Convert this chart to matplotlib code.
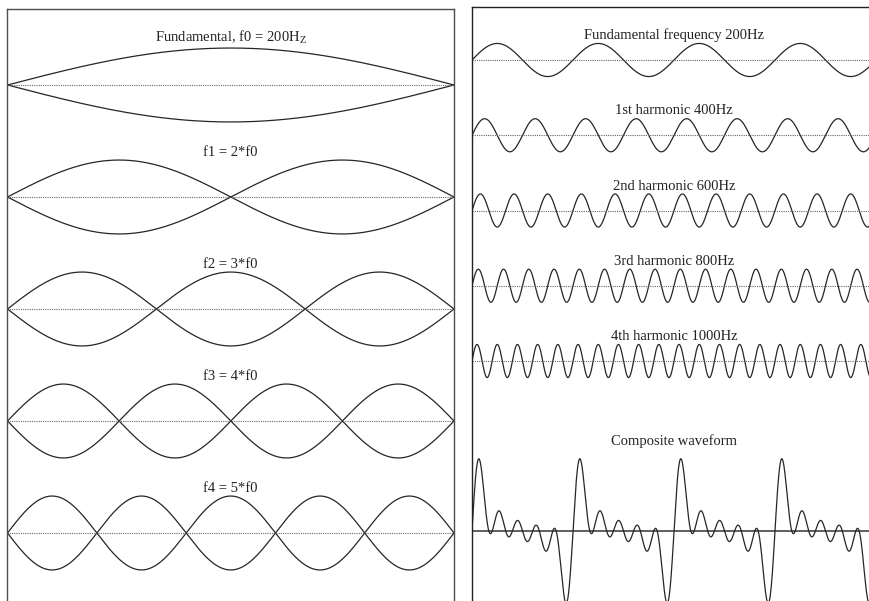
import numpy as np
import matplotlib
matplotlib.use('Agg')
import matplotlib.pyplot as plt

plt.rcParams['font.family'] = 'Liberation Serif'
plt.rcParams['mathtext.fontset'] = 'custom'
plt.rcParams['mathtext.rm'] = 'Liberation Serif'

# harmonic numbers and their frequencies (Hz)
modes = [1, 2, 3, 4, 5]
freqs = [200, 400, 600, 800, 1000]

string_labels = ['Fundamental, f0 = 200H$_{\\rm Z}$', 'f1 = 2*f0', 'f2 = 3*f0',
                 'f3 = 4*f0', 'f4 = 5*f0']
wave_labels = ['Fundamental frequency 200Hz', '1st harmonic 400Hz',
               '2nd harmonic 600Hz', '3rd harmonic 800Hz', '4th harmonic 1000Hz']
composite_label = 'Composite waveform'

# relative amplitudes of the drawn waves
string_amp = 0.33
wave_amps = [0.22, 0.22, 0.22, 0.22, 0.22]
composite_peak = 0.96

line_col = '#262626'
dot_col = '#666666'
W, H = 870, 601

fig = plt.figure(figsize=(8.7, 6.01), dpi=100)

# left panel: standing waves on a string
axL = fig.add_axes([7.5 / W, (H - 625) / H, 446.5 / W, (625 - 9) / H])
x = np.linspace(0, 1, 1000)
for i, n in enumerate(modes):
    y0 = -i
    s = string_amp * np.sin(n * np.pi * x)
    axL.plot(x, y0 + s, color=line_col, lw=0.9)
    axL.plot(x, y0 - s, color=line_col, lw=0.9)
    axL.plot([0, 1], [y0, y0], color=dot_col, lw=0.8, ls=(0, (1, 1)))
    gap = 48 if i == 0 else 44
    axL.text(0.5, y0 + gap / 112, string_labels[i], ha='center',
             va='center', fontsize=10.5, color='#222222')
axL.set_xlim(0, 1)
axL.set_ylim(-(625 - 85) / 112, (85 - 9) / 112)
axL.set_xticks([])
axL.set_yticks([])
for sp in axL.spines.values():
    sp.set_color('#4d4d4d')
    sp.set_linewidth(1.0)

# right panel: harmonics and their sum
axR = fig.add_axes([472 / W, (H - 625) / H, (910 - 472) / W, (625 - 7) / H])
period = 101.0
xmax = (910 - 472) / period
t = np.linspace(0, xmax, 4000)
row = 75.25
for i, f in enumerate(freqs):
    y0 = -i
    k = f / freqs[0]
    axR.plot(t, y0 + wave_amps[i] * np.sin(2 * np.pi * k * t), color=line_col, lw=0.9)
    axR.plot([0, xmax], [y0, y0], color=dot_col, lw=0.8, ls=(0, (1, 1)))
    axR.text(2.0, y0 + 0.325, wave_labels[i],
             ha='center', va='center', fontsize=10.5, color='#222222')

# composite = sum of all the harmonics
comp = np.zeros_like(t)
for f in freqs:
    comp += np.sin(2 * np.pi * (f / freqs[0]) * t)
comp = comp / comp.max() * composite_peak
yc = -(531 - 60) / row
axR.plot([0, xmax], [yc, yc], color='#444444', lw=1.2)
axR.plot(t, yc + comp, color=line_col, lw=0.9)
axR.text(2.0, yc + 1.19, composite_label,
         ha='center', va='center', fontsize=10.5, color='#222222')
axR.set_xlim(0, xmax)
axR.set_ylim(-(625 - 60) / row, (60 - 7) / row)
axR.set_xticks([])
axR.set_yticks([])
for sp in axR.spines.values():
    sp.set_color('#222222')
    sp.set_linewidth(1.0)

fig.savefig('out.png', dpi=100)
